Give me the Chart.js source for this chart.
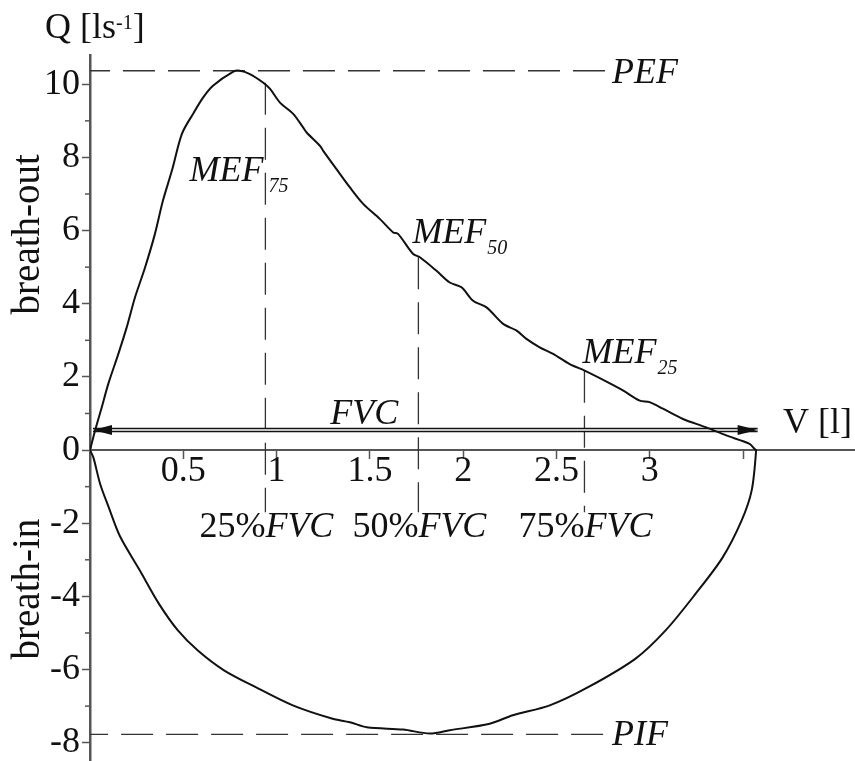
<!DOCTYPE html>
<html>
<head>
<meta charset="utf-8">
<script src="https://cdn.jsdelivr.net/npm/chart.js@4.4.1/dist/chart.umd.min.js"></script>
<style>
  html, body { margin: 0; padding: 0; background: #fff; }
</style>
</head>
<body>
<canvas id="loop" width="855" height="761"></canvas>
<script>
// breath-out part: volume [l] and flow [l/s]
var outV = [0, 0.027, 0.063, 0.098, 0.152, 0.197, 0.241, 0.295, 0.348, 0.391, 0.439, 0.493, 0.552, 0.605, 0.659, 0.766, 0.803, 0.857, 0.927, 0.964,
            1.018, 1.089, 1.142, 1.161, 1.232, 1.250, 1.321, 1.393, 1.464, 1.553, 1.625, 1.651, 1.732, 1.768, 1.857, 1.928, 1.991,
            2.053, 2.125, 2.214, 2.285, 2.339, 2.410, 2.482, 2.571, 2.651, 2.776, 2.856, 2.946, 2.999, 3.071, 3.178, 3.303, 3.410, 3.535, 3.562, 3.570];
var outQ = [0, 0.53, 1.17, 1.81, 2.63, 3.36, 4.17, 4.99, 5.91, 6.82, 7.64, 8.65, 9.19, 9.63, 9.96, 10.34, 10.37, 10.28, 10.05, 9.88,
            9.50, 9.19, 8.82, 8.68, 8.32, 8.18, 7.68, 7.18, 6.73, 6.32, 5.95, 5.91, 5.36, 5.27, 4.90, 4.58, 4.45,
            4.08, 3.90, 3.45, 3.27, 3.04, 2.81, 2.63, 2.35, 2.17, 1.85, 1.63, 1.35, 1.31, 1.13, 0.85, 0.62, 0.40, 0.17, 0.03, 0];

// breath-in part, from full exhale back to zero
var inV = [3.546, 3.492, 3.390, 3.247, 3.085, 2.924, 2.667, 2.464, 2.266, 2.142, 1.928, 1.821, 1.678, 1.484, 1.393, 1.296,
           1.087, 0.903, 0.718, 0.578, 0.471, 0.368, 0.268, 0.160, 0.100, 0.054, 0.018, 0];
var inQ = [-1.11, -1.93, -2.94, -3.92, -4.93, -5.70, -6.49, -6.98, -7.25, -7.48, -7.66, -7.75, -7.64, -7.58, -7.44, -7.34,
           -6.98, -6.52, -6.02, -5.48, -4.93, -4.19, -3.30, -2.35, -1.56, -0.92, -0.20, 0];

var pef = 10.37, pefEnd = 2.76;
var pif = -7.77, pifEnd = 2.75;
var arrowV = [0.016, 3.578], arrowQ = 0.55;
var mefV = [0.94, 1.76, 2.65];
var mefQ = [10.04, 5.27, 2.17];
var mefLow = -1.7;
var mefSub = ['75', '50', '25'];
var pctText = ['25%', '50%', '75%'];

var qTicks = [-8, -6, -4, -2, 0, 2, 4, 6, 8, 10];
var qTickText = ['-8', '-6', '-4', '-2', '0', '2', '4', '6', '8', '10'];
var qMinor = [-7, -5, -3, -1, 1, 3, 5, 7, 9];
var vTicks = [0.5, 1, 1.5, 2, 2.5, 3];
var vTickText = ['0.5', '1', '1.5', '2', '2.5', '3'];
var vTickMarks = [0.5, 1, 1.5, 2, 2.5, 3, 3.5];

var axisColor = '#555';
var ink = '#111';
var serif = "'Liberation Serif', 'Times New Roman', serif";

function pts(xs, ys) {
  return xs.map(function (x, i) { return { x: x, y: ys[i] }; });
}
function near(list, v) {
  for (var i = 0; i < list.length; i++) if (Math.abs(list[i] - v) < 1e-6) return i;
  return -1;
}

var loop = pts(outV.concat(inV), outQ.concat(inQ));
var dashed = { borderColor: '#333', borderWidth: 1.3, borderDash: [32, 13], pointRadius: 0, showLine: true, fill: false };

// lower index is drawn on top
var datasets = [
  { data: loop, borderColor: ink, borderWidth: 2, pointRadius: 0, showLine: true, fill: false, tension: 0.3 },
  { data: pts(arrowV, [arrowQ, arrowQ]), borderColor: '#fff', borderWidth: 1.6, pointRadius: 0, showLine: true },
  { data: pts(arrowV, [arrowQ, arrowQ]), borderColor: ink, borderWidth: 4.6, pointRadius: 0, showLine: true },
  Object.assign({ data: pts([pefEnd, 0], [pef, pef]) }, dashed),
  Object.assign({ data: pts([pifEnd, 0], [pif, pif]) }, dashed)
];
mefV.forEach(function (v, i) {
  datasets.push(Object.assign({ data: pts([v, v], [mefQ[i], mefLow]) }, dashed));
});

var extras = {
  id: 'extras',
  afterDraw: function (chart) {
    var c = chart.ctx, sx = chart.scales.x, sy = chart.scales.y;
    var X = function (v) { return sx.getPixelForValue(v); };
    var Y = function (v) { return sy.getPixelForValue(v); };
    c.save();

    // short ticks on the odd flow values
    c.strokeStyle = axisColor;
    c.lineWidth = 1.5;
    qMinor.forEach(function (q) {
      c.beginPath(); c.moveTo(X(0) - 5, Y(q)); c.lineTo(X(0), Y(q)); c.stroke();
    });

    // FVC arrow heads
    c.fillStyle = ink;
    var ay = Y(arrowQ);
    c.beginPath();
    c.moveTo(X(arrowV[0]), ay); c.lineTo(X(arrowV[0]) + 19, ay - 5); c.lineTo(X(arrowV[0]) + 19, ay + 5); c.closePath(); c.fill();
    c.beginPath();
    c.moveTo(X(arrowV[1]), ay); c.lineTo(X(arrowV[1]) - 20, ay - 5); c.lineTo(X(arrowV[1]) - 20, ay + 5); c.closePath(); c.fill();

    c.fillStyle = ink;
    c.textBaseline = 'alphabetic';

    // axis titles
    c.font = '36px ' + serif;
    c.textAlign = 'left';
    var qx = X(0) - 45, qy = chart.chartArea.top - 17;
    c.fillText('Q [ls', qx, qy);
    var w = c.measureText('Q [ls').width;
    c.font = '20px ' + serif;
    c.fillText('-1', qx + w, qy - 9);
    var w2 = c.measureText('-1').width;
    c.font = '36px ' + serif;
    c.fillText(']', qx + w + w2, qy);

    c.textAlign = 'right';
    c.fillText('V [l]', chart.chartArea.right - 3, Y(0) - 17);

    // breath labels, rotated
    c.font = '39px ' + serif;
    c.textAlign = 'center';
    c.textBaseline = 'middle';
    [['breath-out', 5.9], ['breath-in', -3.8]].forEach(function (b) {
      c.save();
      c.translate(X(0) - 61, Y(b[1]));
      c.rotate(-Math.PI / 2);
      c.fillText(b[0], 0, 0);
      c.restore();
    });

    // italic markers
    c.textBaseline = 'alphabetic';
    c.font = 'italic 36px ' + serif;
    c.textAlign = 'left';
    c.fillText('PEF', X(pefEnd) + 7, Y(pef) + 12);
    c.fillText('PIF', X(pifEnd) + 9, Y(pif) + 11);
    c.textAlign = 'center';
    c.fillText('FVC', X(1.47), Y(arrowQ) - 6);

    // MEF labels
    var mefPos = [
      { dx: -2, by: Y(7.36), align: 'right' },
      { dx: -6, by: Y(mefQ[1]) - 14, align: 'left' },
      { dx: -2, by: Y(mefQ[2]) - 8, align: 'left' }
    ];
    mefV.forEach(function (v, i) {
      var p = mefPos[i];
      c.font = 'italic 36px ' + serif;
      var mw = c.measureText('MEF').width;
      var left = p.align === 'right' ? X(v) + p.dx - mw : X(v) + p.dx;
      c.textAlign = 'left';
      c.fillText('MEF', left, p.by);
      c.font = 'italic 20px ' + serif;
      c.fillText(mefSub[i], left + mw + (i === 0 ? 5 : 1), p.by + 11);
    });

    // percent of FVC labels under the axis
    var py = Y(0) + 87;
    mefV.forEach(function (v, i) {
      c.font = '36px ' + serif;
      c.textAlign = 'right';
      c.fillText(pctText[i], X(v), py);
      c.font = 'italic 36px ' + serif;
      c.textAlign = 'left';
      c.fillText('FVC', X(v), py);
    });

    c.restore();
  }
};

new Chart(document.getElementById('loop'), {
  type: 'scatter',
  data: { datasets: datasets },
  options: {
    responsive: false,
    animation: false,
    layout: { padding: { top: 55, left: 0, right: 0, bottom: 0 } },
    plugins: { legend: { display: false }, tooltip: { enabled: false } },
    scales: {
      x: {
        type: 'linear',
        min: 0,
        max: 4.1,
        position: { y: 0 },
        afterFit: function (s) { s.height = 0; s.paddingLeft = 0; s.paddingRight = 0; },
        border: { color: axisColor, width: 2 },
        grid: {
          drawOnChartArea: false,
          tickLength: 8,
          tickWidth: 1.5,
          tickColor: function (ctx) { return near(vTickMarks, ctx.tick.value) >= 0 ? axisColor : 'rgba(0,0,0,0)'; }
        },
        ticks: {
          stepSize: 0.5,
          includeBounds: false,
          autoSkip: false,
          maxRotation: 0,
          padding: -8,
          color: ink,
          font: { family: serif, size: 36 },
          callback: function (v) { var i = near(vTicks, v); return i >= 0 ? vTickText[i] : ''; }
        }
      },
      y: {
        type: 'linear',
        min: -8.5,
        max: 10.8,
        afterFit: function (s) { s.width = 90; s.paddingTop = 0; s.paddingBottom = 0; },
        border: { color: axisColor, width: 2.5 },
        grid: {
          drawOnChartArea: false,
          tickLength: 8,
          tickWidth: 1.5,
          tickColor: function (ctx) { return near(qTicks, ctx.tick.value) >= 0 ? axisColor : 'rgba(0,0,0,0)'; }
        },
        ticks: {
          stepSize: 1,
          includeBounds: false,
          autoSkip: false,
          padding: 2,
          color: ink,
          font: { family: serif, size: 36 },
          callback: function (v) { var i = near(qTicks, v); return i >= 0 ? qTickText[i] : ''; }
        }
      }
    }
  },
  plugins: [extras]
});
</script>
</body>
</html>
